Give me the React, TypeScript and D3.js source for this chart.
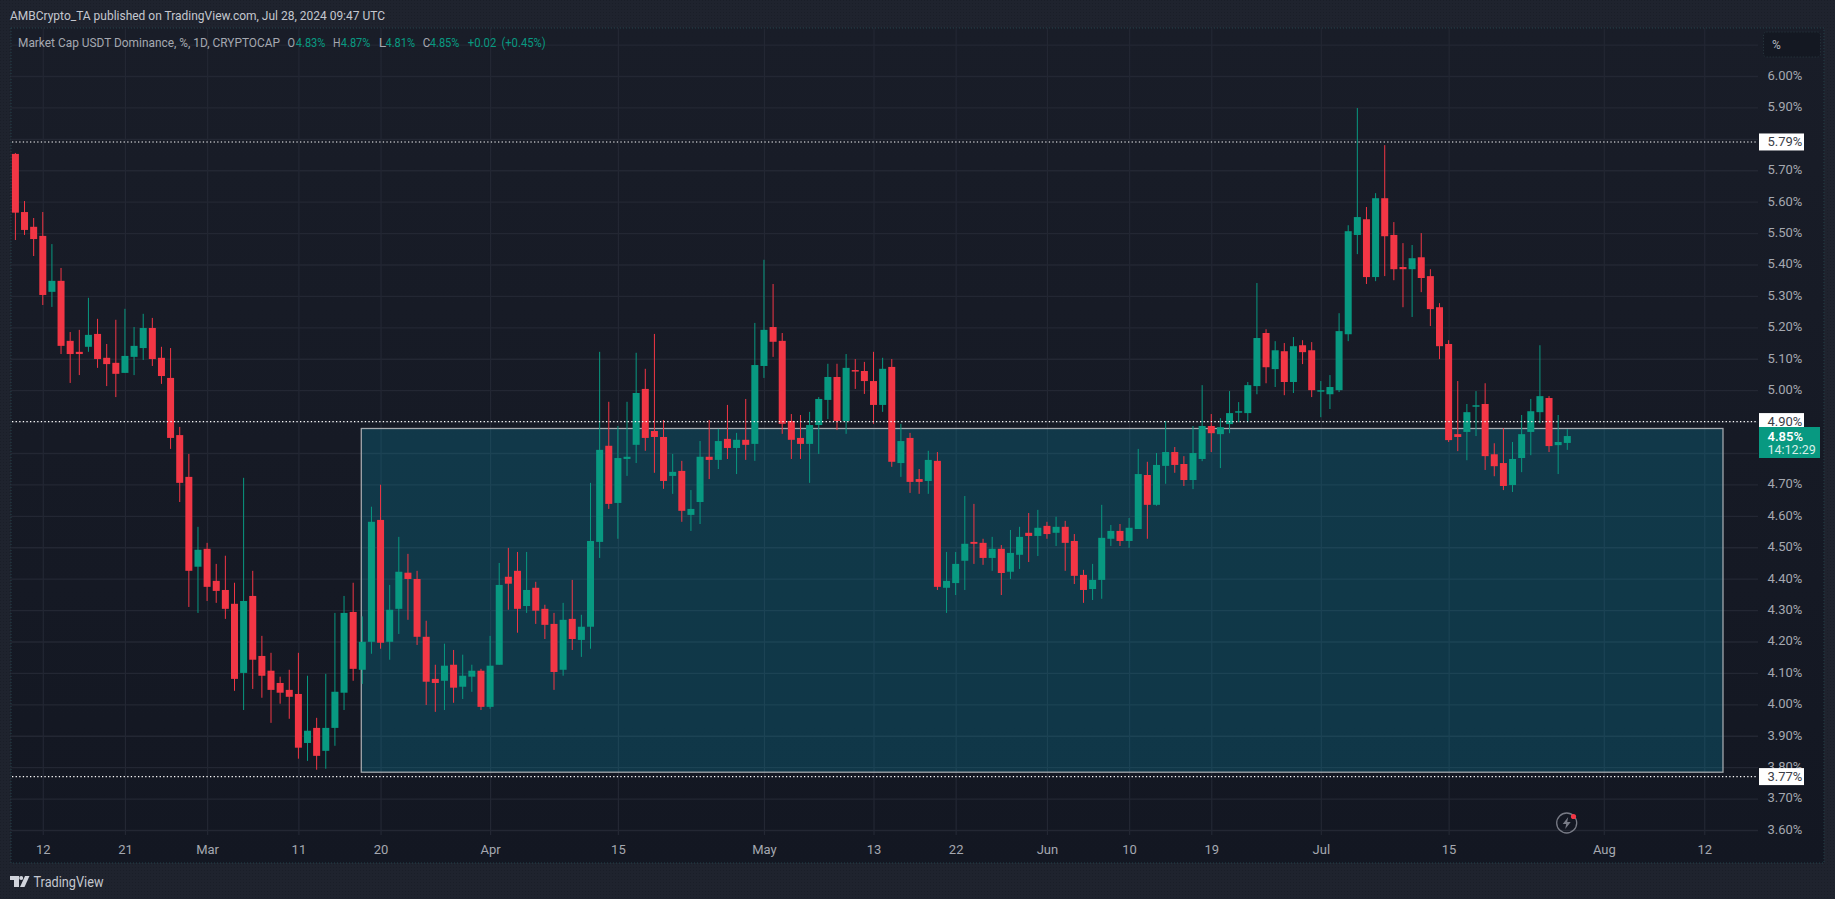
// USDT dominance daily candles, TradingView dark layout

import React, { useEffect, useRef } from 'react';
import * as d3 from 'd3';

const opens = [
  5.752, 5.567, 5.520, 5.491, 5.313, 5.348, 5.157, 5.122, 5.138, 5.179, 5.103, 5.087, 5.055, 5.106, 5.134, 5.198, 5.103, 5.039, 4.857,
  4.724, 4.438, 4.495, 4.393, 4.364, 4.320, 4.100, 4.345, 4.154, 4.107, 4.068, 4.046, 4.033, 3.877, 3.925, 3.852, 3.925, 4.037, 4.294, 4.110,
  4.199, 4.587, 4.199, 4.304, 4.419, 4.399, 4.215, 4.081, 4.075, 4.126, 4.056, 4.088, 4.107, 3.992, 4.126, 4.406, 4.425, 4.313, 4.371, 4.304,
  4.256, 4.110, 4.272, 4.205, 4.247, 4.517, 4.823, 4.641, 4.781, 4.826, 5.004, 4.870, 4.851, 4.727, 4.743, 4.603, 4.644, 4.788, 4.778, 4.845,
  4.816, 4.842, 4.829, 5.077, 5.201, 5.157, 4.902, 4.848, 4.829, 4.889, 4.969, 5.042, 4.902, 5.064, 5.061, 5.029, 4.953, 5.074, 4.768, 4.848,
  4.717, 4.711, 4.775, 4.371, 4.386, 4.457, 4.517, 4.514, 4.466, 4.495, 4.422, 4.476, 4.546, 4.536, 4.568, 4.546, 4.565, 4.520, 4.412, 4.367,
  4.396, 4.527, 4.552, 4.520, 4.558, 4.730, 4.635, 4.759, 4.803, 4.765, 4.714, 4.781, 4.886, 4.860, 4.892, 4.930, 4.927, 5.013, 5.182, 5.067,
  5.124, 5.026, 5.143, 5.127, 4.997, 4.987, 5.000, 5.178, 5.494, 5.544, 5.360, 5.611, 5.494, 5.392, 5.385, 5.423, 5.363, 5.264, 5.147, 4.860,
  4.867, 4.949, 4.956, 4.796, 4.768, 4.698, 4.784, 4.867, 4.930, 4.975, 4.825, 4.832,
];
const highs = [
  5.755, 5.602, 5.548, 5.567, 5.465, 5.389, 5.185, 5.192, 5.294, 5.227, 5.147, 5.224, 5.259, 5.201, 5.243, 5.230, 5.138, 5.134, 4.883,
  4.797, 4.565, 4.514, 4.447, 4.473, 4.387, 4.721, 4.425, 4.218, 4.164, 4.088, 4.110, 4.164, 4.091, 3.957, 4.097, 4.291, 4.345, 4.387, 4.280,
  4.629, 4.699, 4.380, 4.533, 4.479, 4.425, 4.266, 4.126, 4.193, 4.173, 4.158, 4.126, 4.113, 4.218, 4.450, 4.498, 4.485, 4.485, 4.390, 4.317,
  4.291, 4.323, 4.396, 4.285, 4.705, 5.122, 4.963, 4.886, 4.963, 5.119, 5.068, 5.179, 4.905, 4.797, 4.775, 4.682, 4.838, 4.905, 4.877, 4.953,
  4.864, 4.972, 5.214, 5.415, 5.338, 5.182, 4.924, 4.921, 4.931, 4.978, 5.084, 5.084, 5.115, 5.099, 5.090, 5.122, 5.103, 5.099, 4.893, 4.864,
  4.749, 4.807, 4.803, 4.485, 4.485, 4.663, 4.638, 4.527, 4.533, 4.507, 4.555, 4.565, 4.609, 4.619, 4.581, 4.597, 4.584, 4.542, 4.428, 4.447,
  4.635, 4.571, 4.574, 4.593, 4.813, 4.772, 4.800, 4.902, 4.819, 4.790, 4.886, 5.016, 4.924, 4.911, 4.997, 4.962, 5.026, 5.341, 5.194, 5.156,
  5.150, 5.169, 5.159, 5.153, 5.029, 5.048, 5.245, 5.525, 5.898, 5.583, 5.627, 5.780, 5.535, 5.468, 5.462, 5.500, 5.385, 5.277, 5.159, 5.029,
  4.956, 4.997, 5.022, 4.831, 4.879, 4.835, 4.921, 4.972, 5.143, 4.981, 4.921, 4.876,
];
const lows = [
  5.478, 5.494, 5.427, 5.271, 5.265, 5.115, 5.023, 5.048, 5.122, 5.071, 5.013, 4.978, 5.055, 5.048, 5.096, 5.077, 5.020, 4.813, 4.644,
  4.310, 4.291, 4.329, 4.323, 4.272, 4.043, 3.982, 4.049, 4.021, 3.941, 4.002, 3.954, 3.827, 3.820, 3.792, 3.795, 3.868, 3.982, 4.075, 4.065,
  4.161, 4.177, 4.142, 4.224, 4.269, 4.189, 3.998, 3.976, 3.982, 4.005, 4.017, 4.040, 3.982, 3.986, 4.126, 4.301, 4.228, 4.291, 4.256, 4.208,
  4.046, 4.091, 4.173, 4.151, 4.177, 4.466, 4.622, 4.527, 4.727, 4.768, 4.807, 4.737, 4.686, 4.670, 4.581, 4.552, 4.574, 4.717, 4.749, 4.781,
  4.733, 4.778, 4.775, 5.039, 5.106, 4.861, 4.781, 4.781, 4.705, 4.797, 4.908, 4.873, 4.861, 5.004, 4.988, 4.893, 4.931, 4.756, 4.724, 4.673,
  4.670, 4.670, 4.364, 4.291, 4.348, 4.364, 4.447, 4.444, 4.425, 4.348, 4.399, 4.431, 4.453, 4.472, 4.527, 4.504, 4.425, 4.383, 4.323, 4.332,
  4.336, 4.504, 4.504, 4.498, 4.558, 4.527, 4.632, 4.702, 4.737, 4.695, 4.685, 4.774, 4.803, 4.752, 4.863, 4.898, 4.898, 4.987, 5.022, 5.010,
  4.984, 4.991, 5.083, 4.978, 4.914, 4.940, 4.994, 5.156, 5.433, 5.338, 5.347, 5.363, 5.350, 5.264, 5.233, 5.312, 5.204, 5.099, 4.835, 4.806,
  4.777, 4.854, 4.746, 4.726, 4.682, 4.676, 4.739, 4.793, 4.895, 4.803, 4.733, 4.810,
];
const closes = [
  5.565, 5.510, 5.481, 5.303, 5.348, 5.141, 5.115, 5.115, 5.176, 5.099, 5.083, 5.052, 5.109, 5.141, 5.198, 5.099, 5.045, 4.848, 4.705,
  4.425, 4.492, 4.374, 4.361, 4.304, 4.081, 4.329, 4.142, 4.091, 4.046, 4.037, 4.024, 3.862, 3.916, 3.836, 3.925, 4.040, 4.291, 4.113, 4.199,
  4.581, 4.196, 4.301, 4.422, 4.399, 4.215, 4.072, 4.068, 4.123, 4.053, 4.091, 4.107, 3.992, 4.123, 4.380, 4.384, 4.304, 4.364, 4.298, 4.253,
  4.103, 4.269, 4.208, 4.247, 4.520, 4.810, 4.638, 4.784, 4.788, 4.991, 4.848, 4.851, 4.711, 4.740, 4.616, 4.622, 4.788, 4.778, 4.838, 4.816,
  4.842, 4.826, 5.080, 5.192, 5.154, 4.893, 4.842, 4.829, 4.889, 4.972, 5.042, 4.902, 5.071, 5.061, 5.029, 4.953, 5.068, 4.772, 4.838, 4.708,
  4.708, 4.778, 4.374, 4.393, 4.447, 4.511, 4.511, 4.466, 4.495, 4.418, 4.482, 4.533, 4.536, 4.562, 4.542, 4.565, 4.514, 4.409, 4.364, 4.396,
  4.530, 4.552, 4.520, 4.562, 4.733, 4.635, 4.762, 4.803, 4.762, 4.714, 4.800, 4.886, 4.863, 4.882, 4.927, 4.933, 5.016, 5.166, 5.073, 5.127,
  5.026, 5.140, 5.121, 5.000, 5.000, 5.010, 5.188, 5.506, 5.551, 5.360, 5.611, 5.490, 5.385, 5.385, 5.420, 5.357, 5.258, 5.140, 4.841, 4.851,
  4.930, 4.952, 4.790, 4.758, 4.695, 4.781, 4.860, 4.933, 4.981, 4.822, 4.835, 4.854,
];

const priceTicks = [3.6, 3.7, 3.8, 3.9, 4.0, 4.1, 4.2, 4.3, 4.4, 4.5, 4.6, 4.7, 4.8, 4.9, 5.0, 5.1, 5.2, 5.3, 5.4, 5.5, 5.6, 5.7, 5.8, 5.9, 6.0];
const gridOnlyPrice = 6.1;
const hiddenTicks = [4.8, 4.9, 5.8]; // covered by the price labels in the original
const dateTicks = ['2024-02-12', '2024-02-21', '2024-03-01', '2024-03-11', '2024-03-20', '2024-04-01', '2024-04-15', '2024-05-01', '2024-05-13', '2024-05-22', '2024-06-01', '2024-06-10', '2024-06-19', '2024-07-01', '2024-07-15', '2024-08-01', '2024-08-12'];
const dateLabels = ['12', '21', 'Mar', '11', '20', 'Apr', '15', 'May', '13', '22', 'Jun', '10', '19', 'Jul', '15', 'Aug', '12'];
const levels = [5.79, 4.9, 3.77];
const zone = { x0: '2024-03-18', x1: '2024-08-14', top: 4.878, bottom: 3.784 };
const legendValues = ['4.83%', '4.87%', '4.81%', '4.85%'];
const legendLetters = ['O', 'H', 'L', 'C'];

const firstDay = Date.UTC(2024, 1, 9);
const DAY = 86400000;
const UP = '#089981';
const DOWN = '#f23645';
const FONT = 'Roboto, sans-serif';

export default function App() {
  const svgRef = useRef<SVGSVGElement>(null);

  useEffect(() => {
    if (!svgRef.current) return;
    const root = d3.select(svgRef.current);
    root.selectAll('*').remove();

    const width = 1835;
    const height = 899;
    const pane = { left: 11, right: 1758, top: 28, bottom: 835 };
    const frame = { left: 11, right: 1824, top: 28, bottom: 863 };

    const x = d3
      .scaleUtc()
      .domain([new Date(firstDay), new Date(firstDay + 170 * DAY)])
      .range([15.4, 1567.3]);
    const y = d3.scaleLinear().domain([3.6, 6.0]).range([830, 76]);

    const defs = root.append('defs');
    const grad = defs
      .append('linearGradient')
      .attr('id', 'paneBg')
      .attr('x1', 0)
      .attr('x2', 0)
      .attr('y1', 0)
      .attr('y2', 1);
    grad.append('stop').attr('offset', '0%').attr('stop-color', '#191d28');
    grad.append('stop').attr('offset', '100%').attr('stop-color', '#131722');
    // the screenshot is dithered, most visible on the outer frame
    const dither = defs
      .append('pattern')
      .attr('id', 'dither')
      .attr('width', 3)
      .attr('height', 3)
      .attr('patternUnits', 'userSpaceOnUse');
    dither.append('rect').attr('width', 1).attr('height', 1).attr('fill', '#1a1e28');

    // outer frame
    root.append('rect').attr('width', width).attr('height', height).attr('fill', '#1f232e');
    root.append('rect').attr('width', width).attr('height', height).attr('fill', 'url(#dither)');
    root
      .append('rect')
      .attr('x', frame.left)
      .attr('y', frame.top)
      .attr('width', frame.right - frame.left)
      .attr('height', frame.bottom - frame.top)
      .attr('fill', 'url(#paneBg)')
      .attr('stroke', '#24424a')
      .attr('stroke-dasharray', '1 2');

    // grid through d3 axes with long ticks
    const gridColor = '#232733';
    const gridY = root
      .append('g')
      .attr('transform', `translate(${pane.right},0)`)
      .call(
        d3
          .axisLeft(y)
          .tickValues([...priceTicks, gridOnlyPrice])
          .tickSize(pane.right - pane.left)
          .tickFormat(() => ''),
      );
    gridY.select('.domain').remove();
    gridY.selectAll('line').attr('stroke', gridColor).attr('stroke-width', 1.4);

    const tickDates = dateTicks.map(d => new Date(d + 'T00:00:00Z'));
    const gridX = root
      .append('g')
      .attr('transform', `translate(0,${pane.bottom})`)
      .call(
        d3
          .axisTop(x)
          .tickValues(tickDates)
          .tickSize(pane.bottom - pane.top)
          .tickFormat(() => ''),
      );
    gridX.select('.domain').remove();
    gridX.selectAll('line').attr('stroke', gridColor).attr('stroke-width', 1.2);

    // teal zone
    const zoneX0 = x(new Date(zone.x0 + 'T00:00:00Z')) - 1;
    const zoneX1 = x(new Date(zone.x1 + 'T00:00:00Z')) + 0.5;
    root
      .append('rect')
      .attr('x', zoneX0)
      .attr('y', y(zone.top))
      .attr('width', zoneX1 - zoneX0)
      .attr('height', y(zone.bottom) - y(zone.top))
      .attr('fill', 'rgba(0,182,218,0.2)')
      .attr('stroke', '#a3a8ad')
      .attr('stroke-width', 1.3);

    // candles
    const candles = opens.map((o, i) => ({
      date: new Date(firstDay + i * DAY),
      o,
      h: highs[i],
      l: lows[i],
      c: closes[i],
    }));
    const candle = root.append('g').selectAll('g').data(candles).enter().append('g');
    candle
      .append('line')
      .attr('x1', d => x(d.date))
      .attr('x2', d => x(d.date))
      .attr('y1', d => y(d.h))
      .attr('y2', d => y(d.l))
      .attr('stroke', d => (d.c >= d.o ? UP : DOWN))
      .attr('stroke-width', 1);
    candle
      .append('rect')
      .attr('x', d => x(d.date) - 3.5)
      .attr('width', 7)
      .attr('y', d => y(Math.max(d.o, d.c)))
      .attr('height', d => Math.max(1.5, Math.abs(y(d.o) - y(d.c))))
      .attr('fill', d => (d.c >= d.o ? UP : DOWN));

    // dotted levels
    root
      .append('g')
      .selectAll('line')
      .data(levels)
      .enter()
      .append('line')
      .attr('x1', pane.left + 1)
      .attr('x2', pane.right)
      .attr('y1', d => y(d))
      .attr('y2', d => y(d))
      .attr('stroke', '#ffffff')
      .attr('stroke-width', 1.2)
      .attr('stroke-dasharray', '1.3 2.3');

    // price axis
    const priceAxis = root
      .append('g')
      .attr('transform', `translate(${pane.right},0)`)
      .call(
        d3
          .axisRight(y)
          .tickValues(priceTicks.filter(p => !hiddenTicks.includes(p)))
          .tickSize(0)
          .tickPadding(9.5)
          .tickFormat(d => `${(d as number).toFixed(2)}%`),
      );
    priceAxis.select('.domain').remove();
    priceAxis
      .selectAll('text')
      .attr('dy', '0.26em')
      .attr('font-family', FONT)
      .attr('font-size', 13)
      .attr('fill', '#a5a8b0');

    // date axis
    const dateAxis = root
      .append('g')
      .attr('transform', `translate(0,${pane.bottom})`)
      .call(
        d3
          .axisBottom(x)
          .tickValues(tickDates)
          .tickSize(0)
          .tickPadding(10)
          .tickFormat((_, i) => dateLabels[i]),
      );
    dateAxis.select('.domain').remove();
    dateAxis.selectAll('text').attr('font-family', FONT).attr('font-size', 13).attr('fill', '#a5a8b0');

    // level labels
    const levelLabel = root.append('g').selectAll('g').data(levels).enter().append('g');
    levelLabel
      .append('rect')
      .attr('x', pane.right + 1)
      .attr('y', d => y(d) - 8.5)
      .attr('width', 45)
      .attr('height', 17)
      .attr('fill', '#ffffff');
    levelLabel
      .append('text')
      .attr('x', pane.right + 9.5)
      .attr('y', d => y(d) + 4.5)
      .attr('font-family', FONT)
      .attr('font-size', 13)
      .attr('fill', '#3a3d47')
      .text(d => `${d.toFixed(2)}%`);

    // last price tag
    const lastClose = closes[closes.length - 1];
    root
      .append('rect')
      .attr('x', pane.right + 1)
      .attr('y', 427)
      .attr('width', 61)
      .attr('height', 31)
      .attr('fill', UP);
    root
      .append('text')
      .attr('x', pane.right + 9.5)
      .attr('y', 441)
      .attr('font-family', FONT)
      .attr('font-size', 13)
      .attr('font-weight', 600)
      .attr('fill', '#ffffff')
      .text(`${lastClose.toFixed(2)}%`);
    root
      .append('text')
      .attr('x', pane.right + 9.5)
      .attr('y', 454)
      .attr('font-family', FONT)
      .attr('font-size', 12.5)
      .attr('fill', '#d8efe9')
      .text('14:12:29');

    // unit button
    root
      .append('rect')
      .attr('x', 1763.5)
      .attr('y', 32)
      .attr('width', 57)
      .attr('height', 25)
      .attr('rx', 3)
      .attr('fill', '#141822')
      .attr('stroke', '#2a3a42')
      .attr('stroke-dasharray', '1 2');
    root
      .append('text')
      .attr('x', 1772)
      .attr('y', 49)
      .attr('font-family', FONT)
      .attr('font-size', 12)
      .attr('fill', '#b2b5be')
      .text('%');

    // header
    root
      .append('text')
      .attr('x', 10)
      .attr('y', 20)
      .attr('font-family', FONT)
      .attr('font-size', 13.5)
      .attr('fill', '#c4c7cf')
      .attr('textLength', 375)
      .attr('lengthAdjust', 'spacingAndGlyphs')
      .text('AMBCrypto_TA published on TradingView.com, Jul 28, 2024 09:47 UTC');

    // legend, squeezed to the widths of the narrower original font
    const legendY = 47;
    const legend = root.append('g').attr('font-family', FONT).attr('font-size', 13);
    const legendText = (tx: number, label: string, fill: string, len: number) =>
      legend
        .append('text')
        .attr('x', tx)
        .attr('y', legendY)
        .attr('fill', fill)
        .attr('textLength', len)
        .attr('lengthAdjust', 'spacingAndGlyphs')
        .text(label);
    legendText(18, 'Market Cap USDT Dominance, %, 1D, CRYPTOCAP', '#a5a8b0', 262);
    const letterX = [287.5, 333, 378.8, 422.7];
    const valueX = [295.8, 340.8, 385.5, 429.8];
    legendLetters.forEach((l, i) => {
      legendText(letterX[i], l, '#a5a8b0', 7.5);
      legendText(valueX[i], legendValues[i], UP, 29.6);
    });
    legendText(467.8, '+0.02', UP, 28.5);
    legendText(501.4, '(+0.45%)', UP, 44.3);

    // lightning badge
    const badge = root.append('g').attr('transform', 'translate(1566.7,823)');
    badge.append('circle').attr('r', 10).attr('fill', 'none').attr('stroke', '#787b86').attr('stroke-width', 1.3);
    badge.append('path').attr('d', 'M1.5,-6 L-4,1 L-0.5,1 L-1.5,6 L4,-1 L0.5,-1 Z').attr('fill', '#787b86');
    root.append('circle').attr('cx', 1573.5).attr('cy', 816.5).attr('r', 2.6).attr('fill', DOWN);

    // TradingView mark
    const logo = root.append('g').attr('transform', 'translate(10,876)').attr('fill', '#d1d4dc');
    logo.append('path').attr('d', 'M0,0 H9 V11 H4 V4 H0 Z');
    logo.append('circle').attr('cx', 11.2).attr('cy', 2).attr('r', 2);
    logo.append('path').attr('d', 'M15,0 H19.5 L14.5,11 H10 Z');
    root
      .append('text')
      .attr('x', 33.5)
      .attr('y', 887)
      .attr('font-family', FONT)
      .attr('font-size', 14)
      .attr('fill', '#c4c7cf')
      .attr('textLength', 70)
      .attr('lengthAdjust', 'spacingAndGlyphs')
      .text('TradingView');
  }, []);

  return <svg ref={svgRef} width={1835} height={899} style={{ position: 'absolute', left: 0, top: 0 }} />;
}
